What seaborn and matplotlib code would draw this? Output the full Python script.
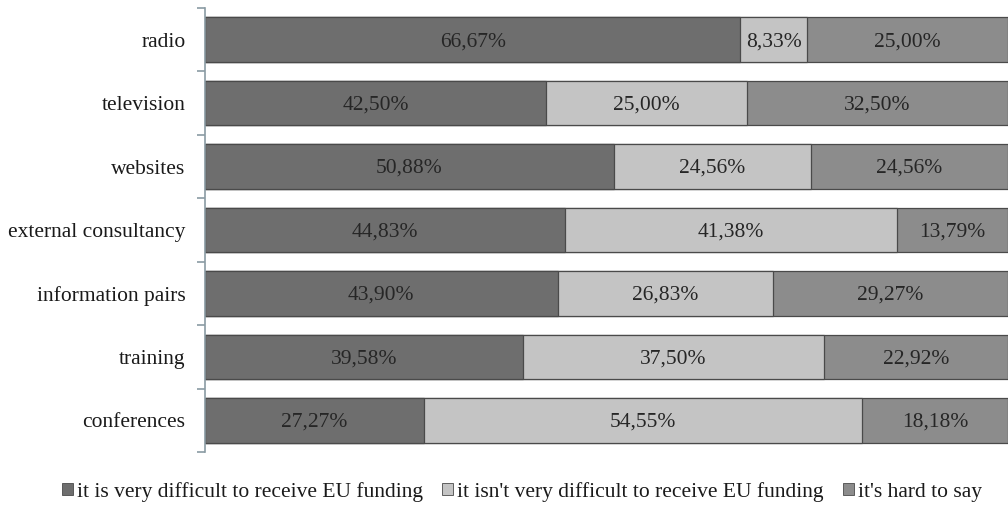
import numpy as np
import seaborn as sns
import matplotlib.pyplot as plt
from matplotlib.patches import Patch

categories = ["radio", "television", "websites", "external consultancy",
              "information pairs", "training", "conferences"]
very_difficult = [66.67, 42.50, 50.88, 44.83, 43.90, 39.58, 27.27]
not_difficult = [8.33, 25.00, 24.56, 41.38, 26.83, 37.50, 54.55]
hard_to_say = [25.00, 32.50, 24.56, 13.79, 29.27, 22.92, 18.18]
series_names = ["it is very difficult to receive EU funding",
                "it isn't very difficult to receive EU funding",
                "it's hard to say"]
colors = ["#6e6e6e", "#c4c4c4", "#8c8c8c"]

sns.set_style("white")
plt.rcParams['font.family'] = ['Liberation Serif', 'DejaVu Serif']

fig = plt.figure(figsize=(10.08, 5.15), dpi=100)
ax = fig.add_axes([0.2034, 0.1223, 0.7966, 0.8622])

v1 = np.array(very_difficult)
v2 = np.array(not_difficult)
v3 = np.array(hard_to_say)
cum = [v1, v1 + v2, v1 + v2 + v3]

# stacked bars: draw cumulative totals from largest to smallest
for tot, col in zip(cum[::-1], colors[::-1]):
    sns.barplot(x=tot, y=categories, orient="h", color=col, width=0.7,
                edgecolor="#4a4a4a", linewidth=0.9, saturation=1, ax=ax)

starts = [np.zeros(len(categories)), v1, v1 + v2]
for vals, st in zip([v1, v2, v3], starts):
    for i, (v, s) in enumerate(zip(vals, st)):
        ax.text(s + v / 2, i + 0.03, f"{v:.2f}%".replace(".", ","), ha="center",
                va="center", fontsize=15.5, color="#262626")

ax.set_xlim(0, 100)
ax.set_ylim(len(categories) - 0.5, -0.5)
ax.set_xticks([])
ax.set_xlabel("")
ax.set_ylabel("")
for side in ["top", "right", "bottom"]:
    ax.spines[side].set_visible(False)
ax.spines["left"].set_color("#8a9ba3")
ax.spines["left"].set_linewidth(1.2)
ax.tick_params(axis="y", which="major", left=False, length=0, labelsize=15.5,
               pad=14, labelcolor="#1a1a1a")
ax.set_yticks(np.arange(-0.5, len(categories), 1), minor=True)
ax.tick_params(axis="y", which="minor", left=True, length=6,
               color="#8a9ba3", width=1.2)

handles = [Patch(facecolor=c, edgecolor="#4a4a4a", linewidth=0.6) for c in colors]
fig.legend(handles, series_names, loc="center", bbox_to_anchor=(0.518, 0.045),
           ncol=3, frameon=False, fontsize=15.5, handlelength=0.5,
           handleheight=0.5, handletextpad=0.2, columnspacing=0.9,
           labelcolor="#1a1a1a")

fig.savefig("out.png", dpi=100)
